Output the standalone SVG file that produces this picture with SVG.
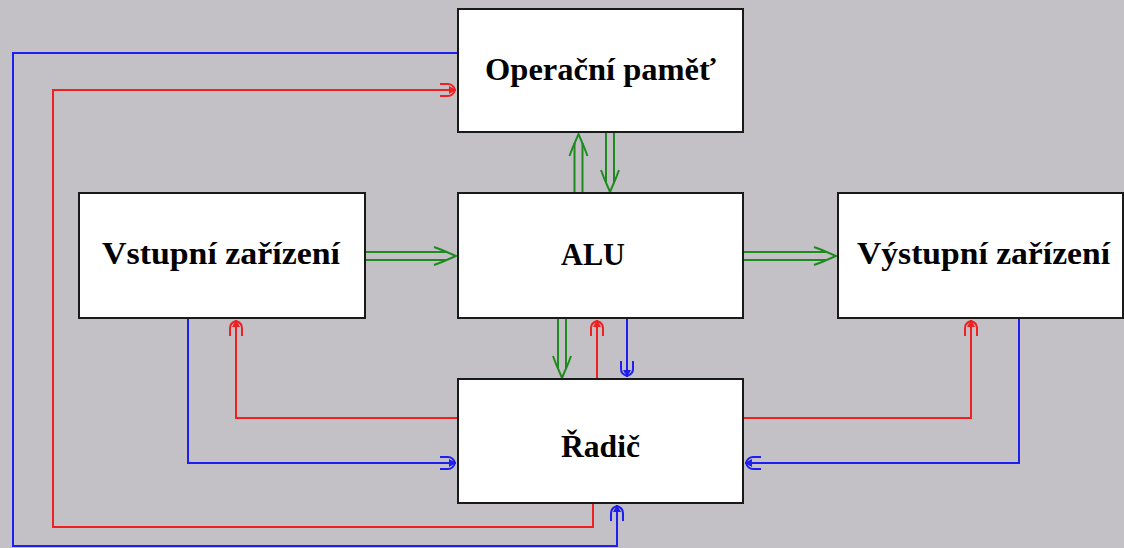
<svg xmlns="http://www.w3.org/2000/svg" width="1124" height="548" viewBox="0 0 1124 548">
<style>
.box{fill:#ffffff;stroke:#1a1a1a;stroke-width:2}
.lbl{font-family:"Liberation Serif","Times New Roman",serif;font-weight:bold;font-size:31px;fill:#000}
.red{fill:none;stroke:#f02020;stroke-width:2}
.blue{fill:none;stroke:#1e1ef0;stroke-width:2}
.grn{fill:none;stroke:#1f8a1f;stroke-width:2}
</style>
<defs>
<marker id="mr" viewBox="-18 -9 20 18" refX="0" refY="0" markerWidth="20" markerHeight="18" markerUnits="userSpaceOnUse" orient="auto" overflow="visible">
<path d="M-16,-6 L-8,-6 Q-3,-6 -1,0 Q-3,6 -8,6 L-16,6" fill="none" stroke="#f02020" stroke-width="2"/>
<path d="M0,0 L-7,-4 L-7,4 Z" fill="#f02020"/>
</marker>
<marker id="mb" viewBox="-18 -9 20 18" refX="0" refY="0" markerWidth="20" markerHeight="18" markerUnits="userSpaceOnUse" orient="auto" overflow="visible">
<path d="M-16,-6 L-8,-6 Q-3,-6 -1,0 Q-3,6 -8,6 L-16,6" fill="none" stroke="#1e1ef0" stroke-width="2"/>
<path d="M0,0 L-7,-4 L-7,4 Z" fill="#1e1ef0"/>
</marker>
<path id="dh" d="M-22,-9 L-14,-6 L0,0 L-14,6 L-22,9" fill="none" stroke="#1f8a1f" stroke-width="2"/>
</defs>
<rect x="0" y="0" width="1124" height="548" fill="#c3c1c6"/>

<g id="connectors">
<path class="blue" d="M458,53 H13 V546 H617 V505" marker-end="url(#mb)"/>
<path class="red" d="M593,503 V527 H53 V90 H456" marker-end="url(#mr)"/>
<path class="blue" d="M188,318 V463 H456" marker-end="url(#mb)"/>
<path class="red" d="M458,418 H236 V320" marker-end="url(#mr)"/>
<path class="red" d="M743,418 H971 V320" marker-end="url(#mr)"/>
<path class="blue" d="M1019,318 V463 H745" marker-end="url(#mb)"/>
<path class="red" d="M597,379 V320" marker-end="url(#mr)"/>
<path class="blue" d="M627,318 V377" marker-end="url(#mb)"/>
<g transform="translate(578.5,134) rotate(-90)">
<path class="grn" d="M-59,-4 H-9 M-59,4 H-9"/><use href="#dh"/>
</g>
<g transform="translate(610,192) rotate(90)">
<path class="grn" d="M-59,-4 H-9 M-59,4 H-9"/><use href="#dh"/>
</g>
<g transform="translate(562,378) rotate(90)">
<path class="grn" d="M-60,-4 H-9 M-60,4 H-9"/><use href="#dh"/>
</g>
<g transform="translate(456,256)">
<path class="grn" d="M-91,-4 H-9 M-91,4 H-9"/><use href="#dh"/>
</g>
<g transform="translate(836,256)">
<path class="grn" d="M-93,-4 H-9 M-93,4 H-9"/><use href="#dh"/>
</g>
</g>

<g id="operacni-pamet">
<rect class="box" x="458" y="9" width="285" height="123"/>
<text class="lbl" x="600.5" y="80" text-anchor="middle" textLength="231" lengthAdjust="spacingAndGlyphs">Operační paměť</text>
</g>
<g id="vstupni-zarizeni">
<rect class="box" x="79" y="193" width="286" height="125"/>
<text class="lbl" x="221" y="264" text-anchor="middle" textLength="238" lengthAdjust="spacingAndGlyphs">Vstupní zařízení</text>
</g>
<g id="alu">
<rect class="box" x="458" y="193" width="285" height="125"/>
<text class="lbl" x="593" y="265" text-anchor="middle" textLength="64" lengthAdjust="spacingAndGlyphs">ALU</text>
</g>
<g id="vystupni-zarizeni">
<rect class="box" x="838" y="193" width="285" height="125"/>
<text class="lbl" x="983.5" y="264" text-anchor="middle" textLength="253" lengthAdjust="spacingAndGlyphs">Výstupní zařízení</text>
</g>
<g id="radic">
<rect class="box" x="458" y="379" width="285" height="124"/>
<text class="lbl" x="600.5" y="457" text-anchor="middle" textLength="79" lengthAdjust="spacingAndGlyphs">Řadič</text>
</g>
</svg>
